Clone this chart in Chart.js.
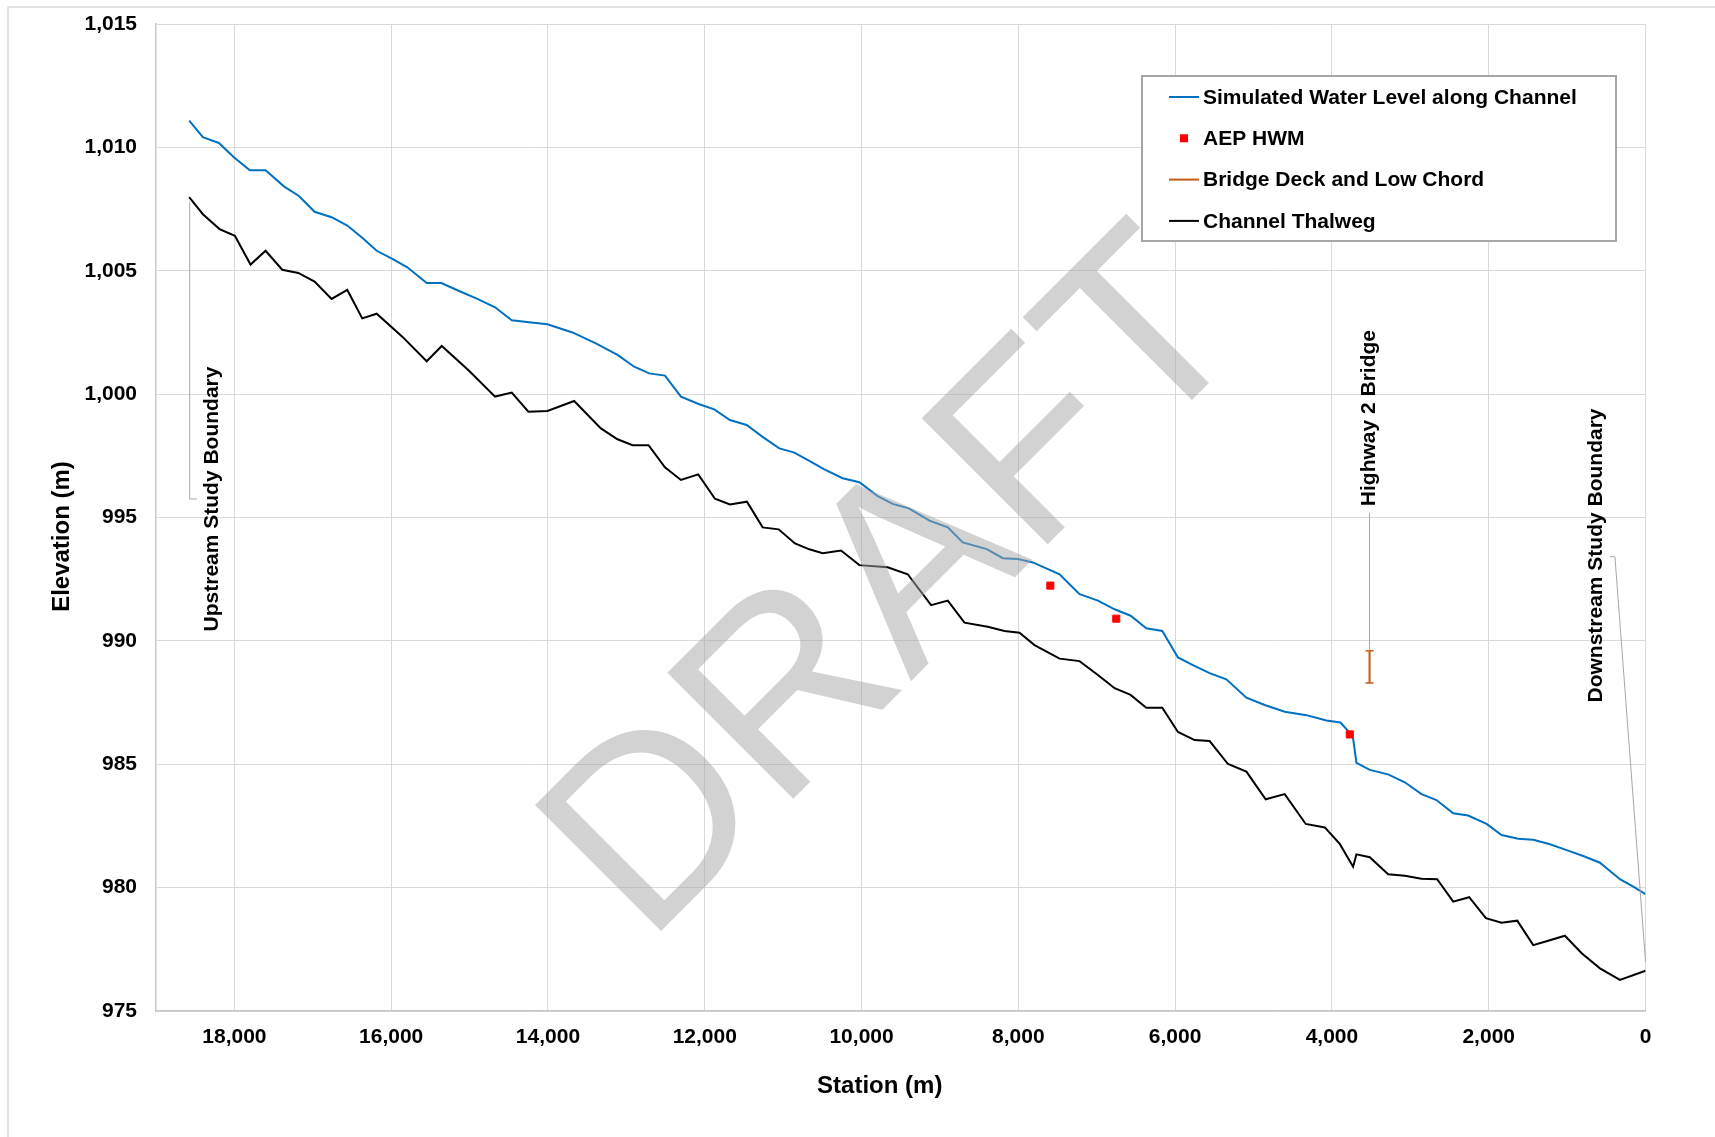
<!DOCTYPE html>
<html>
<head>
<meta charset="utf-8">
<title>Channel Water Level Profile</title>
<script src="https://cdn.jsdelivr.net/npm/chart.js@4.4.1/dist/chart.umd.min.js"></script>
<style>
  html, body { margin: 0; padding: 0; background: #fff; }
  #wrap { width: 1715px; height: 1137px; }
</style>
</head>
<body>
<div id="wrap"><canvas id="profileChart" width="1715" height="1137"></canvas></div>
<script>
// Simulated water level along channel (station m, elevation m)
const wlStation = [18577, 18402, 18198, 18007, 17803, 17602, 17368, 17177, 16977, 16760,
  16560, 16369, 16185, 15985, 15794, 15547, 15360, 15134, 14900, 14675,
  14462, 14241, 14007, 13688, 13389, 13113, 12900, 12709, 12508, 12304,
  12070, 11879, 11679, 11466, 11262, 11049, 10857, 10666, 10474, 10241,
  10028, 9794, 9603, 9397, 9134, 8900, 8709, 8402, 8198, 8006,
  7815, 7474, 7219, 6985, 6772, 6568, 6368, 6164, 5964, 5773,
  5560, 5347, 5091, 4858, 4602, 4325, 4070, 3891, 3807, 3730,
  3687, 3517, 3283, 3070, 2857, 2666, 2453, 2262, 2027, 1836,
  1624, 1432, 1219, 1006, 794, 581, 326, 156, 0];
const wlElev = [1011.08, 1010.41, 1010.18, 1009.60, 1009.07, 1009.07, 1008.42, 1008.03, 1007.39, 1007.17,
  1006.83, 1006.34, 1005.81, 1005.48, 1005.14, 1004.50, 1004.50, 1004.18, 1003.86, 1003.52,
  1002.99, 1002.91, 1002.83, 1002.50, 1002.06, 1001.59, 1001.11, 1000.84, 1000.75, 999.90,
  999.59, 999.38, 998.95, 998.75, 998.27, 997.80, 997.63, 997.29, 996.95, 996.59,
  996.43, 995.87, 995.55, 995.37, 994.87, 994.60, 993.99, 993.72, 993.35, 993.32,
  993.18, 992.70, 991.89, 991.63, 991.28, 991.02, 990.51, 990.40, 989.33, 989.02,
  988.69, 988.44, 987.70, 987.40, 987.13, 986.99, 986.77, 986.69, 986.39, 986.05,
  985.06, 984.77, 984.59, 984.27, 983.79, 983.55, 983.01, 982.92, 982.58, 982.13,
  981.98, 981.94, 981.76, 981.52, 981.28, 981.01, 980.34, 980.04, 979.74];

// Channel thalweg
const thStation = [18577, 18402, 18189, 17994, 17794, 17602, 17390, 17185, 16977, 16760,
  16560, 16369, 16185, 15858, 15547, 15355, 15007, 14675, 14462, 14250,
  14007, 13666, 13325, 13113, 12921, 12717, 12508, 12304, 12083, 11870,
  11679, 11462, 11262, 11058, 10849, 10666, 10496, 10262, 10028, 9667,
  9411, 9113, 8900, 8687, 8390, 8177, 7985, 7794, 7474, 7219,
  6985, 6772, 6568, 6368, 6164, 5964, 5751, 5560, 5326, 5091,
  4845, 4602, 4334, 4091, 3900, 3730, 3687, 3517, 3283, 3070,
  2857, 2658, 2453, 2249, 2036, 1836, 1636, 1432, 1241, 1028,
  814, 581, 326, 0];
const thElev = [1007.98, 1007.29, 1006.69, 1006.42, 1005.25, 1005.81, 1005.04, 1004.91, 1004.56, 1003.86,
  1004.22, 1003.07, 1003.26, 1002.33, 1001.33, 1001.95, 1000.95, 999.90, 1000.06, 999.29,
  999.32, 999.72, 998.61, 998.17, 997.93, 997.93, 997.03, 996.52, 996.75, 995.76,
  995.53, 995.64, 994.60, 994.52, 993.95, 993.71, 993.55, 993.66, 993.07, 992.98,
  992.70, 991.45, 991.63, 990.74, 990.57, 990.40, 990.33, 989.83, 989.28, 989.18,
  988.62, 988.08, 987.81, 987.29, 987.29, 986.31, 985.98, 985.94, 985.01, 984.70,
  983.58, 983.79, 982.58, 982.44, 981.77, 980.85, 981.35, 981.23, 980.54, 980.48,
  980.36, 980.34, 979.43, 979.61, 978.76, 978.58, 978.66, 977.67, 977.85, 978.05,
  977.34, 976.73, 976.26, 976.63];

// AEP high water marks
const hwmStation = [7592, 6751, 3772];
const hwmElev = [992.24, 990.90, 986.21];

// Highway 2 bridge: deck and low chord
const bridgeStation = [3520, 3520];
const bridgeElev = [989.60, 988.29];

// axis ticks
const stationTicks = [0, 2000, 4000, 6000, 8000, 10000, 12000, 14000, 16000, 18000];
const elevTicks = [975, 980, 985, 990, 995, 1000, 1005, 1010, 1015];

// labels written on the plot, with their leader lines
const noteText = ['Upstream Study Boundary', 'Highway 2 Bridge', 'Downstream Study Boundary'];
const noteStation = [18287, 3520, 627];
const noteElev = [995.75, 999.03, 993.46];
const leaderStation = [[18570, 18570, 18480], [3520, 3520], [455, 390, 0]];
const leaderElev = [[1007.80, 995.75, 995.75], [995.18, 989.60], [993.41, 993.41, 977.00]];

const FONT = "'Liberation Sans', Arial, sans-serif";
Chart.defaults.font.family = FONT;
Chart.defaults.color = '#000';

function pairs(xs, ys) {
  return xs.map((x, i) => ({ x: x, y: ys[i] }));
}

const profileDecor = {
  id: 'profileDecor',
  beforeDraw(chart) {
    const ctx = chart.ctx;
    ctx.save();
    ctx.fillStyle = '#fff';
    ctx.fillRect(0, 0, chart.width, chart.height);
    ctx.strokeStyle = '#d9d9d9';
    ctx.lineWidth = 1.5;
    ctx.beginPath();
    ctx.moveTo(8, chart.height);
    ctx.lineTo(8, 7);
    ctx.lineTo(chart.width, 7);
    ctx.stroke();
    ctx.restore();
  },
  afterDatasetsDraw(chart) {
    const ctx = chart.ctx;
    const xs = chart.scales.x, ys = chart.scales.y;
    const area = chart.chartArea;
    ctx.save();

    // leader lines
    ctx.strokeStyle = '#a6a6a6';
    ctx.lineWidth = 1;
    leaderStation.forEach((line, i) => {
      ctx.beginPath();
      line.forEach((s, j) => {
        const px = xs.getPixelForValue(s), py = ys.getPixelForValue(leaderElev[i][j]);
        if (j === 0) ctx.moveTo(px, py); else ctx.lineTo(px, py);
      });
      ctx.stroke();
    });

    // vertical labels
    ctx.fillStyle = '#000';
    ctx.font = 'bold 21px ' + FONT;
    ctx.textAlign = 'center';
    ctx.textBaseline = 'middle';
    noteText.forEach((t, i) => {
      ctx.save();
      ctx.translate(xs.getPixelForValue(noteStation[i]), ys.getPixelForValue(noteElev[i]));
      ctx.rotate(-Math.PI / 2);
      ctx.fillText(t, 0, 0);
      ctx.restore();
    });

    // DRAFT watermark
    ctx.save();
    ctx.translate(area.left + 490, area.top + 922);
    ctx.rotate(-Math.PI / 4);
    ctx.fillStyle = 'rgba(166,166,166,0.5)';
    ctx.font = '259px ' + FONT;
    ctx.textAlign = 'left';
    ctx.textBaseline = 'alphabetic';
    ctx.fillText('DRAFT', 0, 0);
    ctx.restore();

    ctx.restore();
  },
  afterDraw(chart) {
    const ctx = chart.ctx;
    const area = chart.chartArea;
    ctx.save();

    // legend box
    const bx = area.right - 503.5, by = area.top + 52, bw = 474, bh = 165;
    ctx.fillStyle = '#fff';
    ctx.fillRect(bx, by, bw, bh);
    ctx.strokeStyle = '#a6a6a6';
    ctx.lineWidth = 2;
    ctx.strokeRect(bx, by, bw, bh);
    ctx.font = 'bold 21px ' + FONT;
    ctx.textAlign = 'left';
    ctx.textBaseline = 'middle';
    chart.data.datasets.forEach((ds, i) => {
      const ry = by + 21 + i * 41.3;
      if (ds.showLine) {
        ctx.strokeStyle = ds.borderColor;
        ctx.lineWidth = 2;
        ctx.beginPath();
        ctx.moveTo(bx + 27, ry);
        ctx.lineTo(bx + 57, ry);
        ctx.stroke();
      } else {
        ctx.fillStyle = ds.backgroundColor;
        ctx.fillRect(bx + 38, ry - 4, 8, 8);
      }
      ctx.fillStyle = '#000';
      ctx.fillText(ds.label, bx + 61, ry + 1);
    });

    // axis titles
    ctx.font = 'bold 24px ' + FONT;
    ctx.textAlign = 'center';
    ctx.fillText('Station (m)', (area.left + area.right) / 2 - 21, area.bottom + 75);
    ctx.save();
    ctx.translate(area.left - 94, (area.top + area.bottom) / 2 + 19);
    ctx.rotate(-Math.PI / 2);
    ctx.fillText('Elevation (m)', 0, 0);
    ctx.restore();

    ctx.restore();
  }
};

new Chart(document.getElementById('profileChart'), {
  type: 'scatter',
  data: {
    datasets: [
      {
        label: 'Simulated Water Level along Channel',
        data: pairs(wlStation, wlElev),
        showLine: true,
        borderColor: '#0070c0',
        backgroundColor: '#0070c0',
        borderWidth: 2,
        pointRadius: 0,
        tension: 0,
        order: 1
      },
      {
        label: 'AEP HWM',
        data: pairs(hwmStation, hwmElev),
        showLine: false,
        pointStyle: 'rect',
        pointRadius: 5,
        borderWidth: 1,
        borderColor: '#ff0000',
        backgroundColor: '#ff0000',
        order: 0
      },
      {
        label: 'Bridge Deck and Low Chord',
        data: pairs(bridgeStation, bridgeElev),
        showLine: true,
        borderColor: '#c55a11',
        backgroundColor: '#c55a11',
        borderWidth: 2,
        pointStyle: 'line',
        pointRadius: 4,
        pointBorderWidth: 1.5,
        order: 2
      },
      {
        label: 'Channel Thalweg',
        data: pairs(thStation, thElev),
        showLine: true,
        borderColor: '#000000',
        backgroundColor: '#000000',
        borderWidth: 2,
        pointRadius: 0,
        tension: 0,
        order: 3
      }
    ]
  },
  options: {
    responsive: false,
    animation: false,
    devicePixelRatio: 1,
    layout: { padding: { top: 24, right: 69.5, bottom: 0, left: 0 } },
    plugins: {
      legend: { display: false },
      tooltip: { enabled: false }
    },
    scales: {
      x: {
        type: 'linear',
        reverse: true,
        min: 0,
        max: 19000,
        afterBuildTicks: s => { s.ticks = stationTicks.map(v => ({ value: v })); },
        ticks: {
          autoSkip: false,
          padding: 14,
          color: '#000',
          font: { size: 21, weight: 'bold' },
          maxRotation: 0
        },
        grid: { color: '#d9d9d9', drawTicks: false },
        border: { color: '#c8c8c8', width: 1.5 },
        afterFit: s => { s.height = 126; s.paddingLeft = 0; s.paddingRight = 0; }
      },
      y: {
        min: 975,
        max: 1015,
        afterBuildTicks: s => { s.ticks = elevTicks.map(v => ({ value: v })); },
        ticks: {
          autoSkip: false,
          padding: 19,
          color: '#000',
          font: { size: 21, weight: 'bold' }
        },
        grid: { color: '#d9d9d9', drawTicks: false },
        border: { color: '#c8c8c8', width: 1.5 },
        afterFit: s => { s.width = 156; s.paddingTop = 0; s.paddingBottom = 0; }
      }
    }
  },
  plugins: [profileDecor]
});
</script>
</body>
</html>
